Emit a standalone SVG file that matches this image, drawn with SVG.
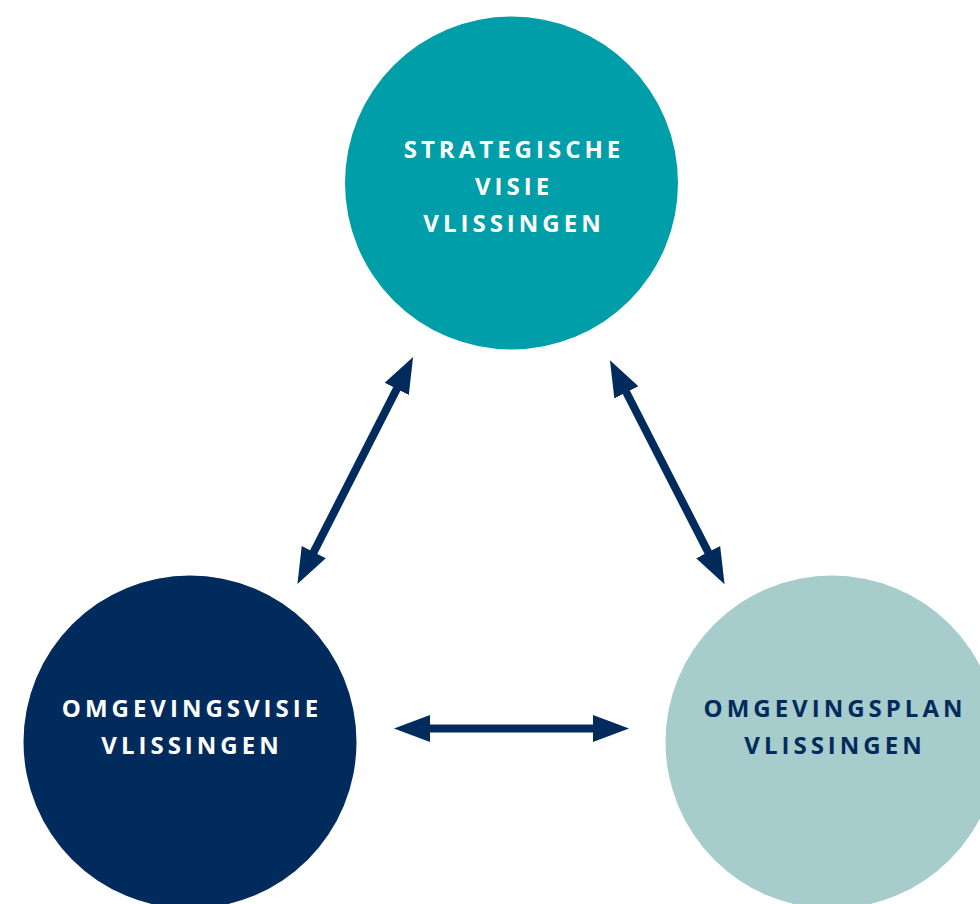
<svg xmlns="http://www.w3.org/2000/svg" width="980" height="904" viewBox="0 0 980 904">
  <style>
    .lbl { font-family: "Open Sans", "DejaVu Sans", sans-serif; font-weight: 700; font-size: 24px; letter-spacing: 4px; text-anchor: middle; }
    .light { fill: #ffffff; }
    .dark { fill: #002B5C; }
    .conn { stroke: #002B5C; stroke-width: 8; fill: none; marker-start: url(#head); marker-end: url(#head); }
  </style>
  <defs>
    <marker id="head" markerUnits="userSpaceOnUse" markerWidth="40" markerHeight="30" refX="1" refY="14" orient="auto-start-reverse" viewBox="0 0 40 28">
      <path d="M0,0.5 L36,14 L0,27.5 z" fill="#002B5C"/>
    </marker>
  </defs>
  <rect width="980" height="904" fill="#ffffff"/>
  <g id="strategische-visie">
    <circle cx="511.5" cy="183" r="166.5" fill="#009EA8"/>
    <text class="lbl light" x="514" y="158">STRATEGISCHE</text>
    <text class="lbl light" x="514" y="195">VISIE</text>
    <text class="lbl light" x="514" y="232">VLISSINGEN</text>
  </g>
  <g id="omgevingsvisie">
    <circle cx="190" cy="742" r="166.5" fill="#002B5C"/>
    <text class="lbl light" x="192" y="717">OMGEVINGSVISIE</text>
    <text class="lbl light" x="192" y="754">VLISSINGEN</text>
  </g>
  <g id="omgevingsplan">
    <circle cx="832" cy="742" r="166.5" fill="#A6CDCC"/>
    <text class="lbl dark" x="835" y="717">OMGEVINGSPLAN</text>
    <text class="lbl dark" x="835" y="754">VLISSINGEN</text>
  </g>
  <g id="connectors">
    <line class="conn" x1="313.3" y1="552.9" x2="397.2" y2="388.1"/>
    <line class="conn" x1="625.9" y1="391.5" x2="708.6" y2="553"/>
    <line class="conn" x1="429" y1="728.5" x2="594" y2="728.5"/>
  </g>
</svg>
